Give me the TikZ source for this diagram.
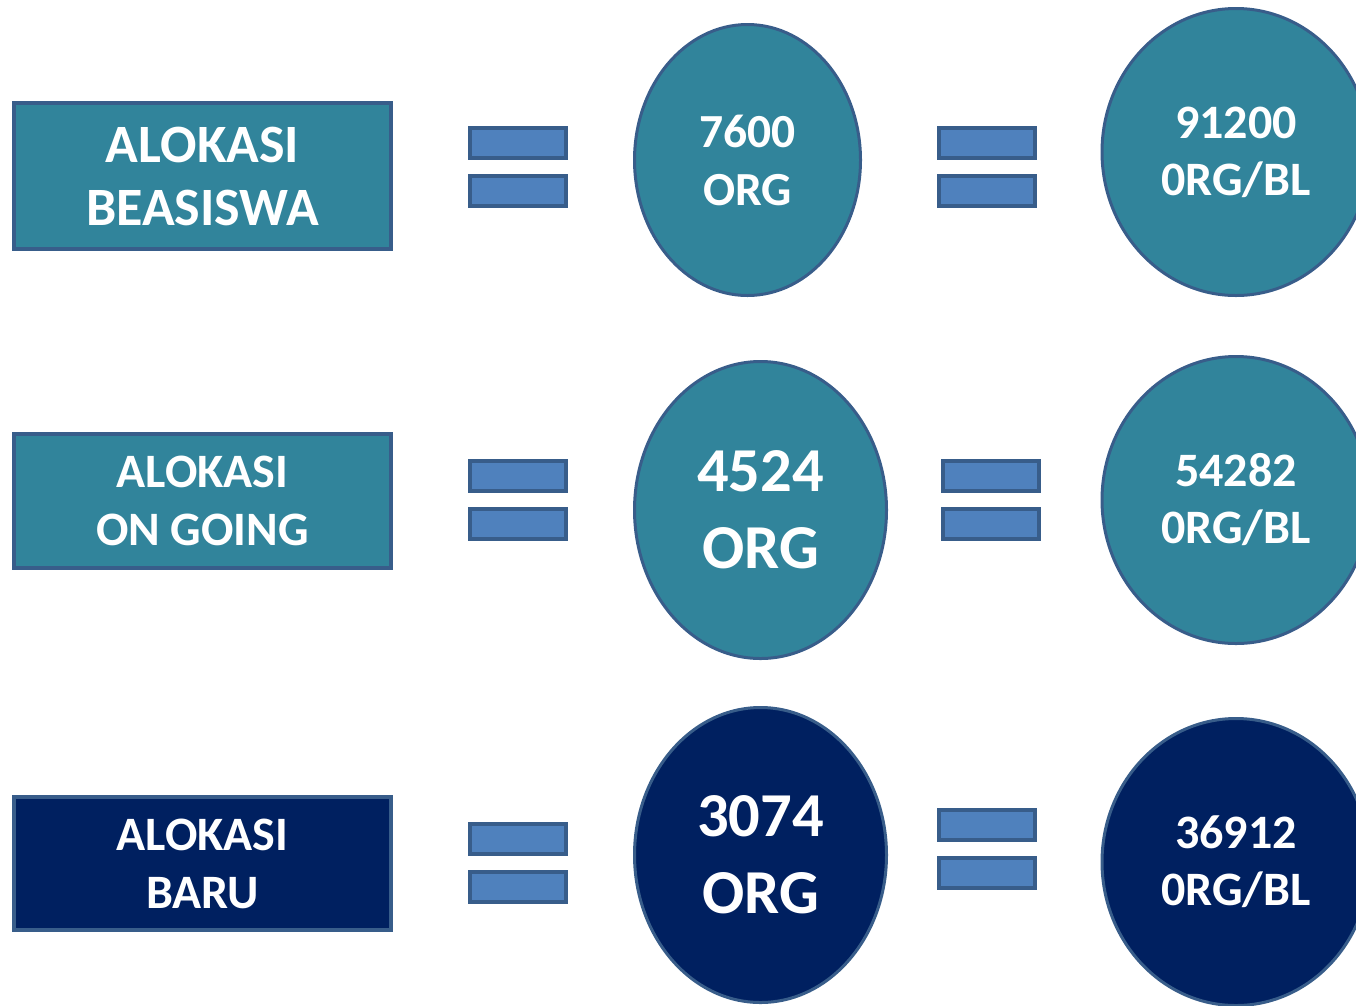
\documentclass[tikz,border=0pt]{standalone}
\usepackage{fontspec}
\setmainfont{Carlito}
\usetikzlibrary{shapes.geometric}
\definecolor{tealfill}{HTML}{31849B}
\definecolor{navyfill}{HTML}{002060}
\definecolor{edgeblue}{HTML}{385D8A}
\definecolor{barfill}{HTML}{4F81BD}
\newcommand{\sizetext}[2]{\bfseries\fontsize{#1}{#2}\selectfont}
\begin{document}
\begin{tikzpicture}
        [x=1pt,y=-1pt,
         box_style/.style={rectangle,draw=edgeblue,line width=4pt,fill=tealfill,text=white,
                           align=center,inner sep=0pt,minimum width=377pt},
         box_style_new/.style={box_style,fill=navyfill},
         oval_style/.style={ellipse,draw=edgeblue,line width=3pt,fill=tealfill,text=white,
                            align=center,inner sep=0pt},
         oval_style_new/.style={oval_style,fill=navyfill},
         bar_style/.style={rectangle,draw=edgeblue,line width=3.5pt,fill=barfill,
                           inner sep=0pt,minimum width=96pt,minimum height=30pt}]
            \useasboundingbox (0,0) rectangle (1356,1005);
            \clip (0,0) rectangle (1356,1005);
            % row 1
            \node[box_style,minimum height=146pt,font=\sizetext{54}{63}] (b1) at (202.5, 176)
                {ALOKASI\\BEASISWA};
            \node[bar_style] (q1a) at (518, 143) {};
            \node[bar_style] (q1b) at (518, 191) {};
            \node[oval_style,minimum width=226pt,minimum height=271pt,font=\sizetext{47.5}{58}] (e1) at (747.5, 160)
                {7600\\ORG};
            \node[bar_style] (r1a) at (987, 143) {};
            \node[bar_style] (r1b) at (987, 191) {};
            \node[oval_style,minimum width=268pt,minimum height=287pt,font=\sizetext{48}{57}] (m1) at (1236, 152)
                {91200\\0RG/BL};
            % row 2
            \node[box_style,minimum height=134pt,font=\sizetext{48}{58}] (b2) at (202.5, 501)
                {ALOKASI\\ON GOING};
            \node[bar_style] (q2a) at (518, 476) {};
            \node[bar_style] (q2b) at (518, 524) {};
            \node[oval_style,minimum width=252pt,minimum height=297pt,font=\sizetext{62.5}{77}] (e2) at (760.5, 510)
                {4524\\ORG};
            \node[bar_style] (r2a) at (991, 476) {};
            \node[bar_style] (r2b) at (991, 524) {};
            \node[oval_style,minimum width=268pt,minimum height=287pt,font=\sizetext{48}{57}] (m2) at (1236, 500)
                {54282\\0RG/BL};
            % row 3
            \node[box_style_new,minimum height=133pt,font=\sizetext{48}{58}] (b3) at (202.5, 863.5)
                {ALOKASI\\BARU};
            \node[bar_style] (q3a) at (518, 839) {};
            \node[bar_style] (q3b) at (518, 887) {};
            \node[oval_style_new,minimum width=252pt,minimum height=295pt,font=\sizetext{62.5}{77}] (e3) at (760.5, 855)
                {3074\\ORG};
            \node[bar_style] (r3a) at (987, 825) {};
            \node[bar_style] (r3b) at (987, 873) {};
            \node[oval_style_new,minimum width=268pt,minimum height=287pt,font=\sizetext{48}{57}] (m3) at (1236, 862)
                {36912\\0RG/BL};
        \end{tikzpicture}
\end{document}
